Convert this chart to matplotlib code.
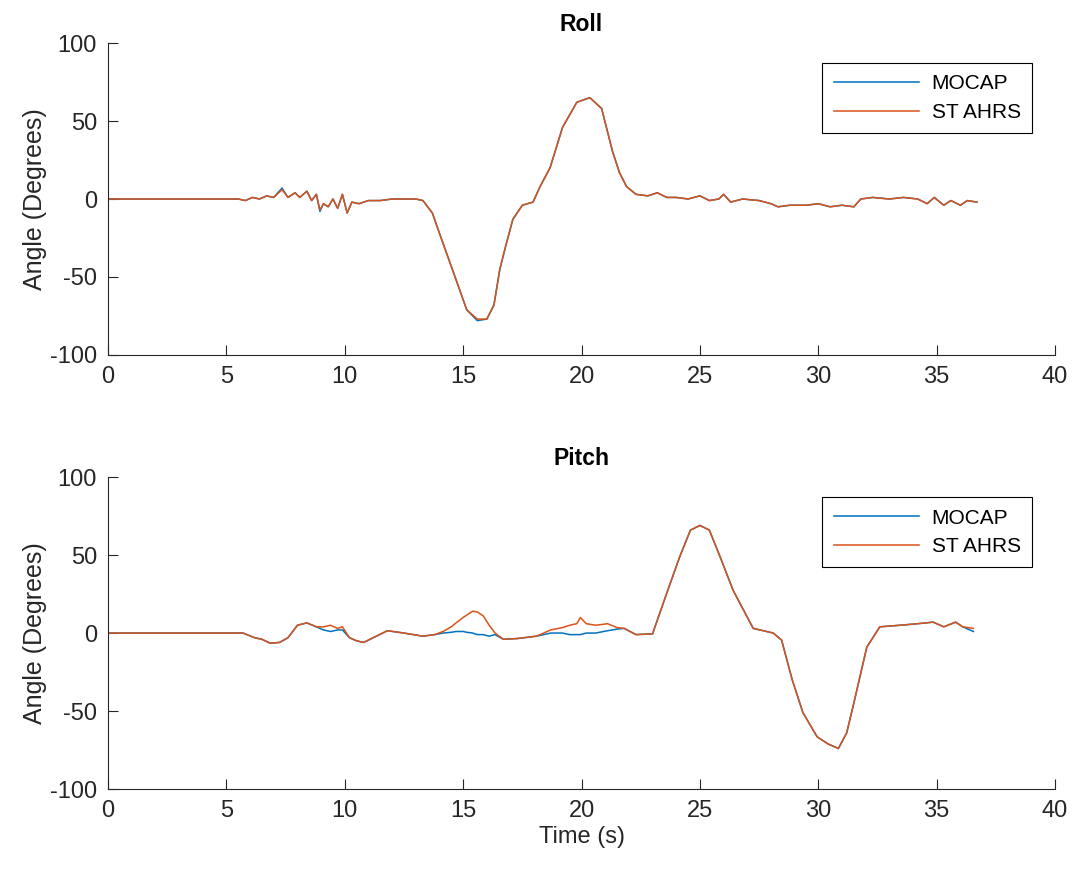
import matplotlib
matplotlib.use('Agg')
import matplotlib.pyplot as plt

plt.rcParams['font.family'] = ['Liberation Sans', 'DejaVu Sans']
plt.rcParams['axes.unicode_minus'] = False

# Roll
roll_t = [0, 5.5, 5.8, 6.1, 6.4, 6.7, 7.0, 7.35, 7.6, 7.9, 8.1, 8.4, 8.6, 8.8, 8.95,
          9.1, 9.3, 9.5, 9.7, 9.9, 10.1, 10.3, 10.6, 11.0, 11.5, 12.0, 12.5, 13.0,
          13.3, 13.7, 14.0, 14.4, 14.8, 15.15, 15.6, 16.0, 16.3, 16.55, 16.8, 17.1,
          17.5, 17.95, 18.25, 18.67, 19.2, 19.8, 20.35, 20.85, 21.3, 21.6, 21.9, 22.3,
          22.8, 23.2, 23.6, 24.0, 24.5, 25.0, 25.4, 25.8, 26.0, 26.3, 26.8, 27.5, 28.0,
          28.3, 28.8, 29.5, 30.0, 30.5, 31.0, 31.5, 31.8, 32.3, 33.0, 33.6, 34.2, 34.6,
          34.9, 35.3, 35.6, 36.0, 36.3, 36.7]
roll_mocap = [0, 0, -1, 1, 0, 2, 1, 7, 1, 4, 1, 5, -1, 3, -8,
              -3, -5, 0, -6, 3, -9, -2, -3, -1, -1, 0, 0, 0,
              -1, -9, -22, -39, -56, -71, -78, -77, -68, -45, -30, -13,
              -4, -2, 8, 20, 46, 62, 65, 58, 31, 17, 8, 3,
              2, 4, 1, 1, 0, 2, -1, 0, 3, -2, 0, -1, -3,
              -5, -4, -4, -3, -5, -4, -5, 0, 1, 0, 1, 0, -3,
              1, -4, -1, -4, -1, -2]
roll_ahrs = [0, 0, -1, 1, 0, 2, 1, 6, 1, 4, 1, 5, -1, 3, -7,
             -3, -5, 0, -6, 3, -9, -2, -3, -1, -1, 0, 0, 0,
             -1, -9, -22, -39, -56, -71, -77, -77, -68, -45, -30, -13,
             -4, -2, 8, 20, 46, 62, 65, 58, 31, 17, 8, 3,
             2, 4, 1, 1, 0, 2, -1, 0, 3, -2, 0, -1, -3,
             -5, -4, -4, -3, -5, -4, -5, 0, 1, 0, 1, 0, -3,
             1, -4, -1, -4, -1, -2]

# Pitch
pitch_t = [0, 5.7, 6.2, 6.5, 6.85, 7.25, 7.6, 8.0, 8.4, 8.8, 9.1, 9.4, 9.7, 9.9,
           10.2, 10.5, 10.8, 11.2, 11.8, 12.5, 13.3, 13.8, 14.15, 14.5, 14.7, 15.0,
           15.15, 15.4, 15.6, 15.85, 16.1, 16.35, 16.7, 17.3, 18.1, 18.7, 19.2, 19.5,
           19.8, 19.95, 20.2, 20.6, 21.1, 21.5, 21.8, 22.3, 23.0, 23.6, 24.15, 24.6,
           25.0, 25.4, 25.85, 26.4, 27.25, 28.1, 28.45, 28.9, 29.35, 29.95, 30.4,
           30.85, 31.2, 31.5, 32.05, 32.6, 33.45, 34.2, 34.85, 35.3, 35.8, 36.1, 36.55]
pitch_mocap = [0, 0, -3, -4, -6.5, -6, -3, 5, 6.5, 4, 2, 1, 2, 2,
               -3, -5, -6, -3, 1.5, 0, -2, -1, 0, 0.5, 1, 1,
               0.5, 0, -1, -1, -2, -1, -4, -3.5, -2, 0, 0, -1,
               -1, -1, 0, 0, 1.5, 2.5, 3, -1, -0.5, 25.6, 49, 66,
               69, 66, 49, 27.5, 3, 0, -4.5, -30, -51, -66.5, -71,
               -74, -64, -45, -9, 4, 5, 6, 7, 4, 7, 4, 1]
pitch_ahrs = [0, 0, -3, -4, -6.5, -6, -3, 5, 6.5, 4, 4, 5, 3, 4,
              -3, -5, -6, -3, 1.5, 0, -2, -1, 1, 4, 6.5, 10,
              11.5, 14, 13.5, 11, 5, 0, -4, -3.5, -2, 2, 3.5, 5,
              6, 10, 6, 5, 6, 3.5, 3, -1, -0.5, 25.6, 49, 66,
              69, 66, 49, 27.5, 3, 0, -4.5, -30, -51, -66.5, -71,
              -74, -64, -45, -9, 4, 5, 6, 7, 4, 7, 4, 3]

blue = '#0072BD'
orange = '#D95319'
dark = '#262626'

fig = plt.figure(figsize=(10.78, 8.73), dpi=100)
ax_roll = fig.add_axes([0.1002, 0.5934, 0.8785, 0.3573])
ax_pitch = fig.add_axes([0.1002, 0.0962, 0.8785, 0.3573])

panels = [(ax_roll, 'Roll', roll_t, roll_mocap, roll_ahrs),
          (ax_pitch, 'Pitch', pitch_t, pitch_mocap, pitch_ahrs)]

for ax, name, t, mocap, ahrs in panels:
    ax.plot(t, mocap, color=blue, linewidth=1.1, label='MOCAP')
    ax.plot(t, ahrs, color=orange, linewidth=1.1, label='ST AHRS')
    ax.set_xlim(0, 40)
    ax.set_ylim(-100, 100)
    ax.set_xticks(range(0, 41, 5))
    ax.set_yticks([-100, -50, 0, 50, 100])
    ax.spines['top'].set_visible(False)
    ax.spines['right'].set_visible(False)
    for s in ['left', 'bottom']:
        ax.spines[s].set_color(dark)
        ax.spines[s].set_linewidth(0.8)
    ax.tick_params(direction='in', length=7, width=0.8, colors=dark,
                   labelsize=17, pad=8)
    ax.set_title(name, fontsize=16.5, fontweight='bold', pad=9)
    ax.set_ylabel('Angle (Degrees)', fontsize=18, color=dark, labelpad=2)
    leg = ax.legend(loc='upper right', bbox_to_anchor=(0.976, 0.936),
                    fontsize=15, handlelength=4.1, fancybox=False,
                    framealpha=1, edgecolor='black', borderaxespad=0,
                    borderpad=0.55, handletextpad=0.6, labelspacing=0.45)
    leg.get_frame().set_linewidth(0.8)

ax_pitch.set_xlabel('Time (s)', fontsize=17, color=dark, labelpad=3)

fig.savefig('out.png', dpi=100)
